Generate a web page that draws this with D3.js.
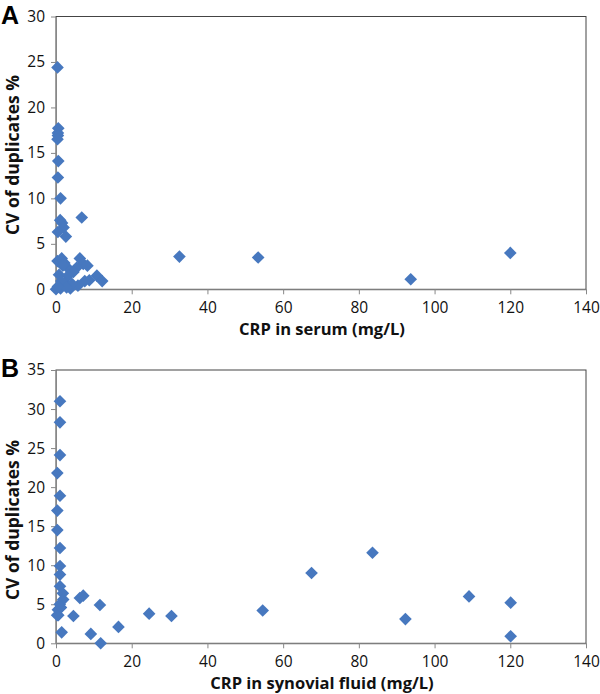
<!DOCTYPE html>
<html><head><meta charset="utf-8">
<script src="https://cdn.jsdelivr.net/npm/d3@7"></script>
<style>body{margin:0;background:#fff}svg{display:block}</style>
</head><body>
<svg id="c" width="600" height="694"></svg>
<script>
const xTicks = [0,20,40,60,80,100,120,140];
const yTicksA = [0,5,10,15,20,25,30];
const yTicksB = [0,5,10,15,20,25,30,35];
const serumX = [0.4,0.6,0.5,0.5,0.4,0.6,0.5,1.2,1.1,1.6,2.0,0.5,2.6,6.8,32.6,53.4,93.7,120,0.4,1.5,2.2,3.0,6.3,7.2,8.3,5.5,4.6,0.8,3.2,10.8,12.2,8.8,7.6,5.8,3.8,1.2,0.0,2.4,4.2,1.4,2.8,0.5,1.8];
const serumCV = [24.4,17.7,17.2,16.9,16.5,14.1,12.3,10.0,7.6,7.3,6.8,6.3,5.8,7.9,3.6,3.5,1.1,4.0,3.1,3.4,2.9,2.4,3.4,2.8,2.6,2.4,1.9,1.6,1.5,1.5,0.9,1.0,0.9,0.4,0.1,0.1,0.0,0.7,0.6,0.9,0.2,0.3,2.6];
const synX = [1.05,1.05,1.05,0.35,1.05,0.35,0.35,1.05,1.05,1.05,1.05,1.8,1.9,1.2,0.6,1.5,4.6,6.3,7.2,11.6,9.2,11.8,16.5,24.6,30.5,54.6,67.5,83.6,92.3,109.1,120.1,120.1,0.5,1.0,0.3,1.3];
const synCV = [31.0,28.3,24.1,21.8,18.9,17.0,14.5,12.2,9.9,8.8,7.3,6.4,5.6,4.6,3.6,1.4,3.5,5.8,6.1,4.9,1.2,0.0,2.1,3.8,3.5,4.2,9.0,11.6,3.1,6.0,5.2,0.9,4.3,5.0,3.6,4.6];

const svg = d3.select("#c");
const left = 56, right = 586;
const x = d3.scaleLinear().domain([0,140]).range([left,right]);
const font = "'Open Sans', 'Liberation Sans', sans-serif";
const color = "#4778bf";
const sym = d3.symbol().type(d3.symbolSquare).size(80);

function panel(letter, top, bottom, yMax, yTicks, xs, ys, xTitle, yTitleC) {
  const y = d3.scaleLinear().domain([0,yMax]).range([bottom, top]);
  const g = svg.append("g");
  g.append("rect").attr("x", left).attr("y", top).attr("width", right-left).attr("height", bottom-top)
    .attr("fill","none").attr("stroke","#444").attr("stroke-width",1);
  const xa = g.append("g").attr("transform",`translate(0,${bottom})`)
    .call(d3.axisBottom(x).tickValues(xTicks).tickSize(5).tickSizeOuter(0).tickPadding(8));
  const ya = g.append("g").attr("transform",`translate(${left},0)`)
    .call(d3.axisLeft(y).tickValues(yTicks).tickSize(5).tickSizeOuter(0).tickPadding(6));
  [xa, ya].forEach(a => {
    a.select(".domain").attr("stroke","#888");
    a.selectAll(".tick line").attr("stroke","#888");
    a.selectAll("text").attr("font-family",font).attr("font-size",15.5).attr("fill","#111");
  });
  g.selectAll("path.pt").data(xs.map((v,i)=>[v,ys[i]])).join("path")
    .attr("class","pt")
    .attr("d", sym)
    .attr("transform", d => `translate(${x(d[0])},${y(d[1])}) rotate(45)`)
    .attr("fill", color);
  g.append("text").attr("x",(left+right)/2 + 1).attr("y", bottom+46)
    .attr("text-anchor","middle").attr("font-family",font).attr("font-weight","bold")
    .attr("font-size",16.5).attr("fill","#111").text(xTitle);
  g.append("text").attr("transform",`translate(19,${yTitleC}) rotate(-90)`)
    .attr("text-anchor","middle").attr("font-family",font).attr("font-weight","bold")
    .attr("font-size",17.5).attr("fill","#111").text("CV of duplicates %");
  g.append("text").attr("x",1).attr("y", top+7).attr("font-family","'Liberation Sans', Arial, sans-serif")
    .attr("font-weight","bold").attr("font-size",25).attr("fill","#000").text(letter);
}
panel("A", 16.5, 289.3, 30, yTicksA, serumX, serumCV, "CRP in serum (mg/L)", 155);
panel("B", 370, 643.3, 35, yTicksB, synX, synCV, "CRP in synovial fluid (mg/L)", 520);
</script>
</body></html>
